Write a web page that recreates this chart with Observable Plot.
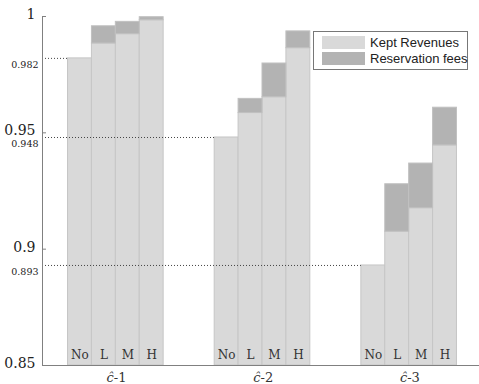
<!DOCTYPE html>
<html>
<head>
<meta charset="utf-8">
<script src="https://cdn.jsdelivr.net/npm/d3@7"></script>
<script src="https://cdn.jsdelivr.net/npm/@observablehq/plot@0.6"></script>
<style>
  body { margin: 0; background: #fff; }
  #chart { position: relative; width: 479px; height: 384px; }
  .legend {
    position: absolute; left: 313px; top: 31px; width: 153px; height: 37px;
    border: 1px solid #777; background: #fff;
    font-family: "Liberation Sans", Arial, sans-serif; font-size: 13px; color: #222;
  }
  .legend .row { position: absolute; left: 8px; height: 13px; display: flex; align-items: center; white-space: nowrap; }
  .legend .sw { width: 43px; height: 13px; margin-right: 5px; flex: none; }
</style>
</head>
<body>
<div id="chart"></div>
<script>
// Revenue shares per capacity scenario (ĉ-1, ĉ-2, ĉ-3) and reservation level
const groups = ["1", "2", "3"];
const levels = ["No", "L", "M", "H"];
const keptRevenue = [
  [0.982, 0.9884, 0.9924, 0.9984],
  [0.948, 0.9585, 0.9653, 0.9864],
  [0.893, 0.9075, 0.9176, 0.9446]
];
const reservationFees = [
  [0, 0.0074, 0.0053, 0.0013],
  [0, 0.0061, 0.0145, 0.0072],
  [0, 0.0204, 0.0192, 0.0162]
];
const yTicks = [0.85, 0.9, 0.95, 1];
const seriesNames = ["Kept Revenues", "Reservation fees"];
const seriesColors = ["#d9d9d9", "#b3b3b3"];

const serifFont = "DejaVu Serif";
const barWidth = 0.163; // in group units
const rows = [];
groups.forEach((g, gi) => {
  levels.forEach((lv, li) => {
    const x1 = gi + 1 + (li - 2) * barWidth;
    rows.push({group: g, level: lv, x1, x2: x1 + barWidth,
               kept: keptRevenue[gi][li], fee: reservationFees[gi][li]});
  });
});
// dotted reference lines at the no-reservation revenue of each group
const refs = rows.filter(d => d.level === "No").map(d => ({value: d.kept, x: d.x1}));

const axisColor = "#808080";
const plot = Plot.plot({
  width: 479,
  height: 384,
  marginLeft: 42,
  marginRight: 0,
  marginTop: 16,
  marginBottom: 19,
  x: {domain: [0.5, 3.5], range: [42, 482], axis: null},
  y: {domain: [0.85, 1], axis: null},
  style: {background: "white"},
  marks: [
    Plot.rect(rows, {x1: "x1", x2: "x2", y1: 0.85, y2: "kept", fill: seriesColors[0], stroke: "#c6c6c6", strokeWidth: 1}),
    Plot.rect(rows.filter(d => d.fee > 0), {x1: "x1", x2: "x2", y1: "kept", y2: d => d.kept + d.fee, fill: seriesColors[1], stroke: "#c0c0c0", strokeWidth: 1}),
    Plot.ruleY(refs, {y: "value", x1: 0.5, x2: "x", stroke: "#444", strokeWidth: 1, strokeDasharray: "1,2"}),
    Plot.ruleX([0.5], {y1: 0.85, y2: 1, stroke: axisColor}),
    Plot.ruleY([0.85], {stroke: axisColor, strokeWidth: 1.2}),
    Plot.ruleY(yTicks, {x1: 0.5, x2: 0.5 + 4 / 146.7, stroke: axisColor}),
    Plot.text(yTicks, {x: 0.5, y: d => d, text: d => String(d), textAnchor: "end", dx: -7, dy: -2, fontSize: 14, fill: "#222"}),
    Plot.text(refs, {x: 0.5, y: "value", text: d => d.value.toFixed(3), textAnchor: "end", dx: -4, dy: 6.5, fontSize: 9.5, fill: "#222"}),
    Plot.text(rows, {x: d => (d.x1 + d.x2) / 2, y: 0.85, text: "level", dy: -10, fontSize: 12, fill: "#333"}),
    Plot.text(groups, {x: (d, i) => i + 1, y: 0.85, text: () => "ĉ", textAnchor: "end", dx: -2, dy: 12, fontSize: 13, fontStyle: "italic", fill: "#333"}),
    Plot.text(groups, {x: (d, i) => i + 1, y: 0.85, text: d => "-" + d, textAnchor: "start", dx: -2, dy: 12, fontSize: 13, fill: "#333"})
  ]
});

// axis and bar labels use a serif face
d3.select(plot).selectAll("text").style("font-family", `"${serifFont}", serif`);

const chart = document.getElementById("chart");
chart.appendChild(plot);

const legend = document.createElement("div");
legend.className = "legend";
seriesNames.forEach((name, i) => {
  const row = document.createElement("div");
  row.className = "row";
  row.style.top = (4 + i * 16) + "px";
  const sw = document.createElement("div");
  sw.className = "sw";
  sw.style.background = seriesColors[i];
  const label = document.createElement("span");
  label.textContent = name;
  row.appendChild(sw);
  row.appendChild(label);
  legend.appendChild(row);
});
chart.appendChild(legend);
</script>
</body>
</html>
